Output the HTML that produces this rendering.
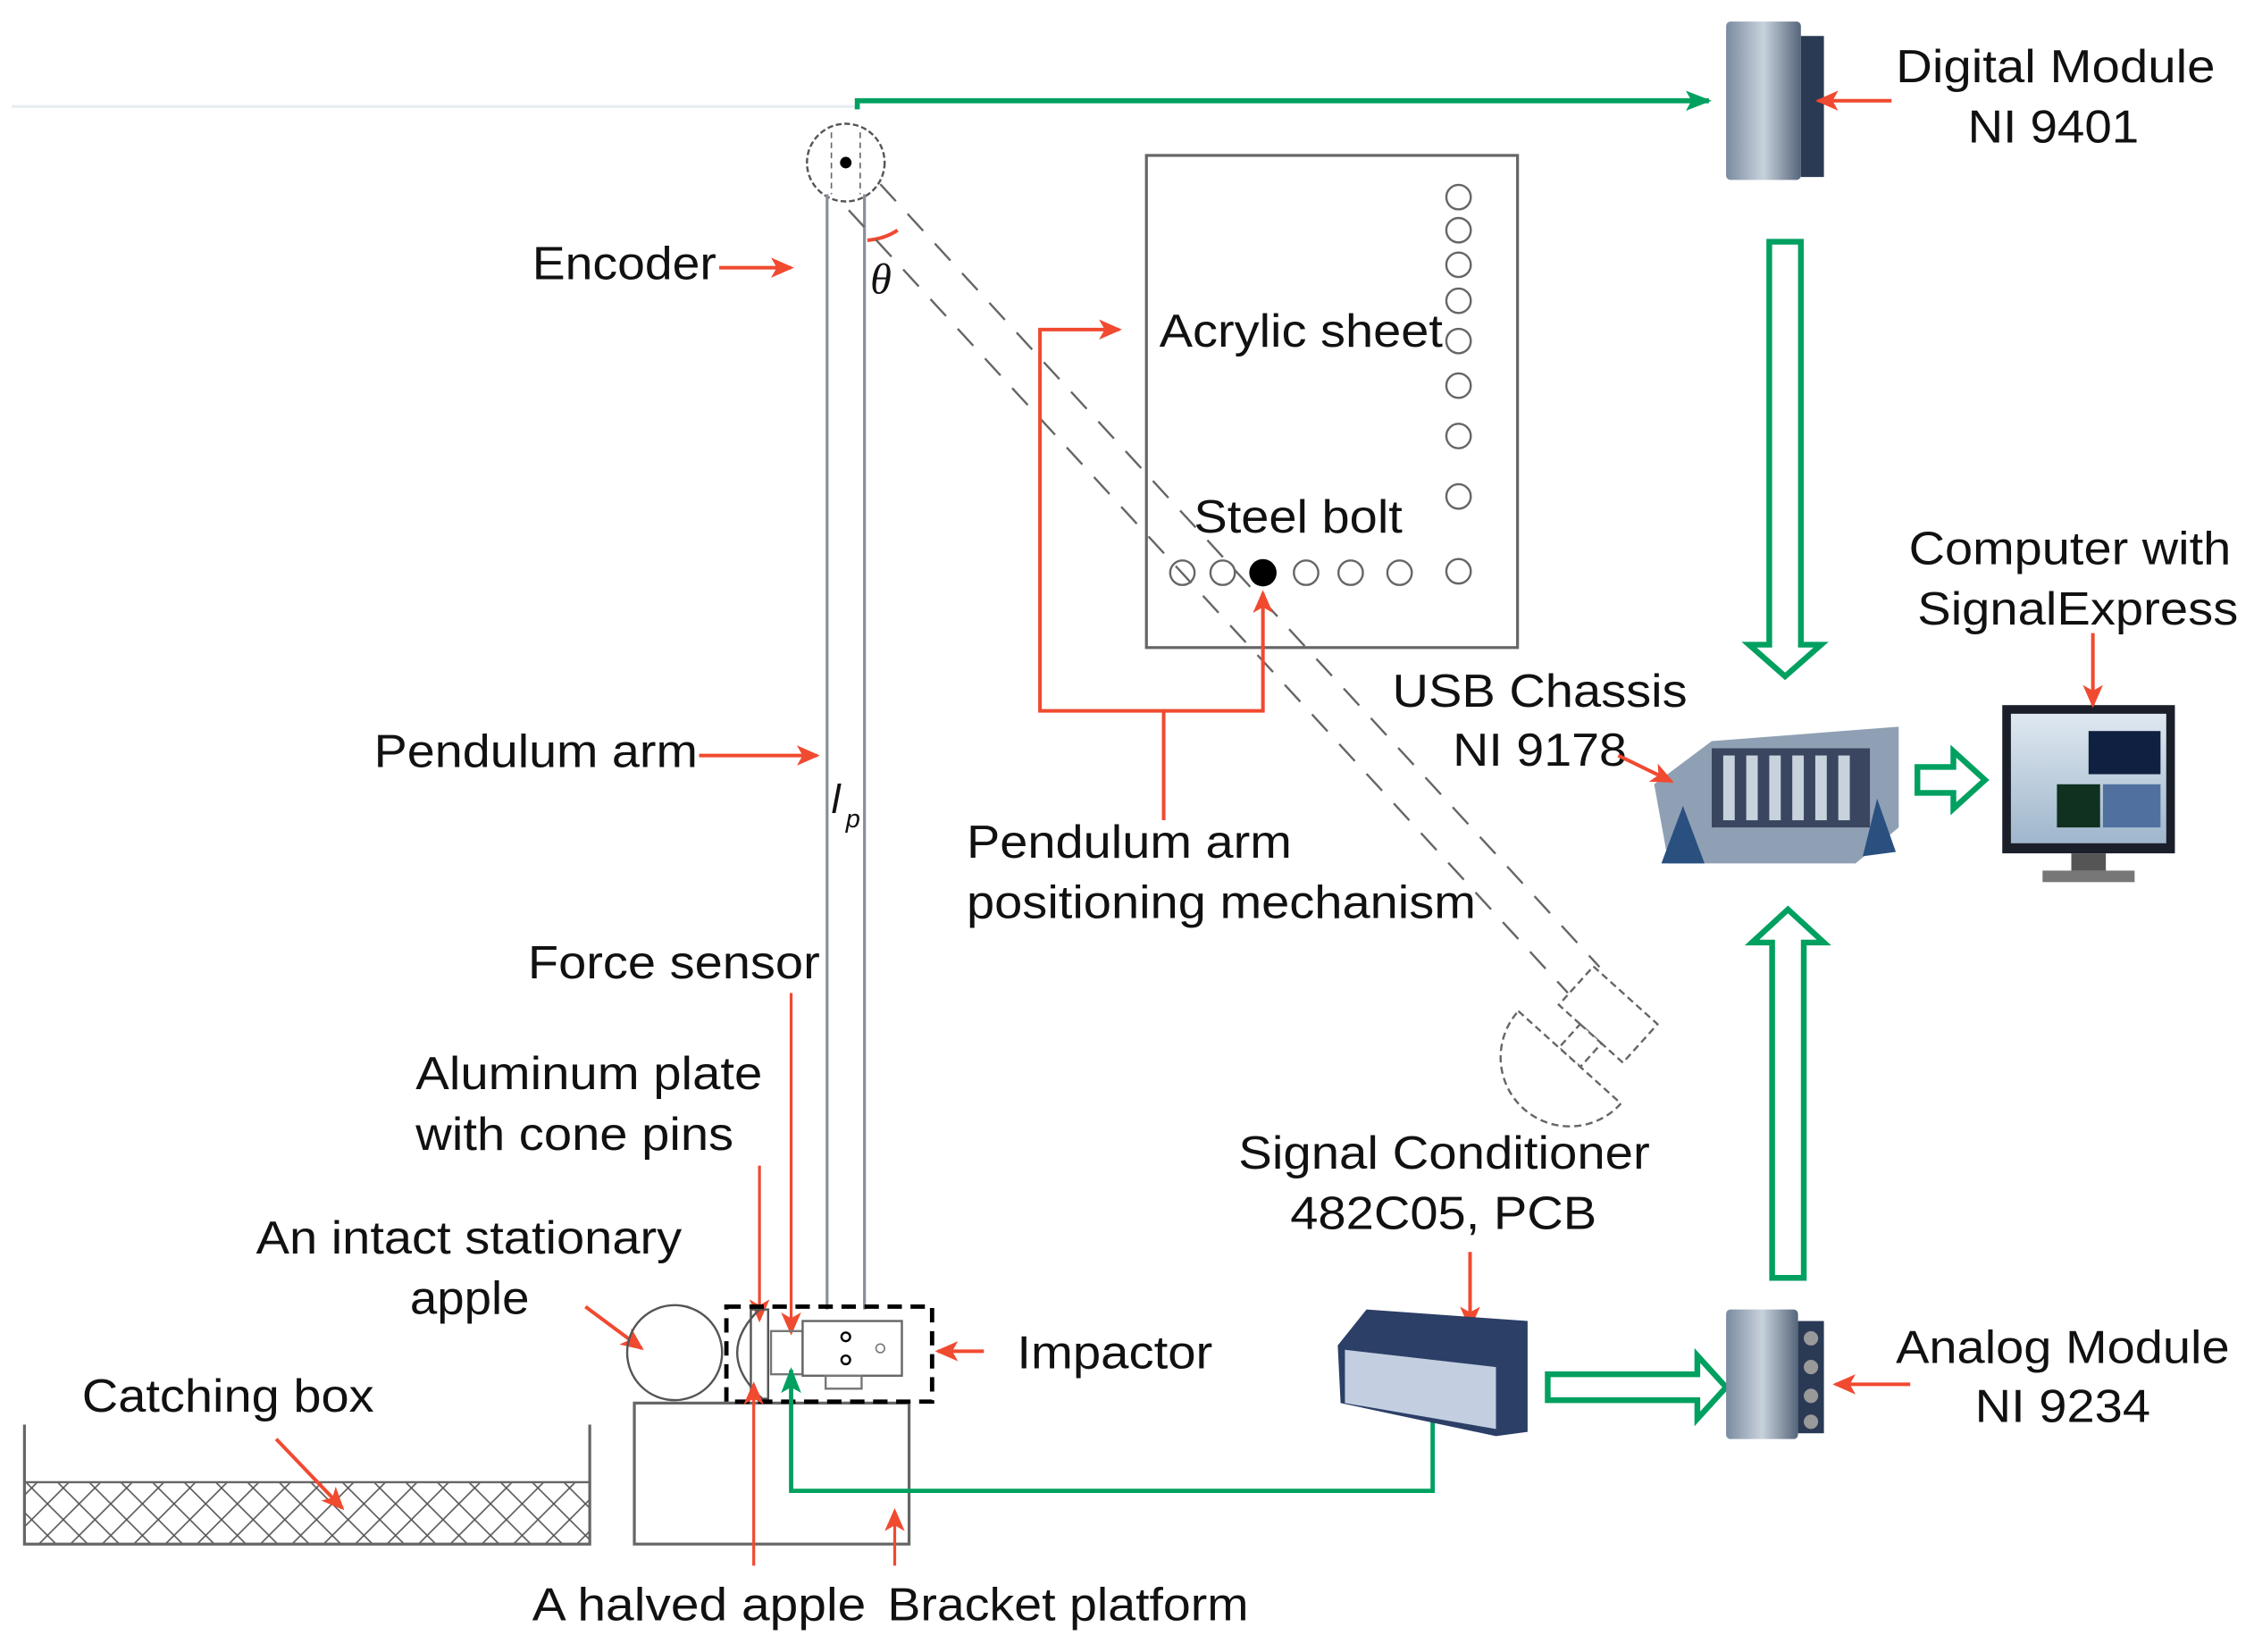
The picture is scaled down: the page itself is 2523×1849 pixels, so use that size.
<!DOCTYPE html>
<html><head><meta charset="utf-8"><style>
html,body{margin:0;padding:0;background:#fff;}
svg{display:block}
text{font-family:"Liberation Sans",sans-serif;font-size:32px;fill:#111;}
</style></head><body>
<svg width="2523" height="1849" viewBox="0 0 1567 1148" preserveAspectRatio="none" xmlns="http://www.w3.org/2000/svg">
<defs>
<marker id="rb" markerWidth="16" markerHeight="16" refX="14" refY="8" orient="auto" markerUnits="userSpaceOnUse"><path d="M0,1 L16,8 L0,15 L4,8z" fill="#f04a30"/></marker>
<marker id="gb" markerWidth="18" markerHeight="16" refX="16" refY="8" orient="auto" markerUnits="userSpaceOnUse"><path d="M0,1 L18,8 L0,15 L4,8z" fill="#00a060"/></marker>
<pattern id="hatch" width="22" height="22" patternUnits="userSpaceOnUse"><path d="M0,0 L22,22 M22,0 L0,22" stroke="#555" stroke-width="1"/></pattern>
<linearGradient id="mod" x1="0" x2="1"><stop offset="0" stop-color="#7a8ba0"/><stop offset="0.5" stop-color="#c8d2dc"/><stop offset="1" stop-color="#55657a"/></linearGradient>
<linearGradient id="scr" x1="0" y1="0" x2="0" y2="1"><stop offset="0" stop-color="#dfe8f0"/><stop offset="1" stop-color="#9fb6cc"/></linearGradient>
</defs>
<line x1="8" y1="74" x2="595" y2="74" stroke="#e6eef2" stroke-width="2"/>
<polyline points="596,76 596,70 1188,70" fill="none" stroke="#00a060" stroke-width="3.5" marker-end="url(#gb)"/>
<circle cx="588" cy="113" r="27" fill="none" stroke="#555" stroke-width="1.5" stroke-dasharray="4,2"/>
<line x1="578" y1="92" x2="578" y2="135" stroke="#666" stroke-dasharray="4,3"/>
<line x1="598" y1="92" x2="598" y2="135" stroke="#666" stroke-dasharray="4,3"/>
<circle cx="588" cy="113" r="4" fill="#000"/>
<line x1="575" y1="135" x2="575" y2="910" stroke="#8a8f98" stroke-width="2"/>
<line x1="601" y1="135" x2="601" y2="910" stroke="#8a8f98" stroke-width="2"/>
<path d="M603,167 Q615,166 624,160" fill="none" stroke="#f04a30" stroke-width="2.5"/>
<text x="605" y="204" style="font-family:'Liberation Serif',serif;font-style:italic;font-size:30px">θ</text>
<line x1="612" y1="128" x2="1112" y2="672" stroke="#666" stroke-width="1.5" stroke-dasharray="16,12"/>
<line x1="590" y1="146" x2="1090" y2="690" stroke="#666" stroke-width="1.5" stroke-dasharray="16,12"/>
<g transform="translate(1118,705) rotate(42)" fill="#fff" stroke="#666" stroke-width="1.5" stroke-dasharray="5,3">
<rect x="-30" y="-18" width="60" height="36"/>
<rect x="-10" y="18" width="20" height="22"/>
<path d="M-48,40 L48,40 A48,48 0 0 1 -48,40" />
</g>
<rect x="797" y="108" width="258" height="342" fill="none" stroke="#666" stroke-width="2"/>
<g fill="none" stroke="#666" stroke-width="1.5">
<circle cx="1014" cy="137" r="8.5"/><circle cx="1014" cy="160" r="8.5"/><circle cx="1014" cy="184" r="8.5"/><circle cx="1014" cy="209" r="8.5"/><circle cx="1014" cy="237" r="8.5"/><circle cx="1014" cy="268" r="8.5"/><circle cx="1014" cy="303" r="8.5"/><circle cx="1014" cy="345" r="8.5"/><circle cx="1014" cy="397" r="8.5"/>
<circle cx="822" cy="398" r="8.5"/><circle cx="850" cy="398" r="8.5"/><circle cx="908" cy="398" r="8.5"/><circle cx="939" cy="398" r="8.5"/><circle cx="973" cy="398" r="8.5"/>
</g>
<circle cx="878" cy="398" r="9.5" fill="#000"/>
<text x="806" y="241" textLength="197" lengthAdjust="spacingAndGlyphs">Acrylic sheet</text>
<text x="830" y="370" textLength="145" lengthAdjust="spacingAndGlyphs">Steel bolt</text>
<polyline points="809,570 809,494 723,494 723,229 778,229" fill="none" stroke="#f04a30" stroke-width="2.5" marker-end="url(#rb)"/>
<polyline points="809,494 878,494 878,412" fill="none" stroke="#f04a30" stroke-width="2.5" marker-end="url(#rb)"/>
<text x="370" y="194" textLength="128" lengthAdjust="spacingAndGlyphs">Encoder</text>
<line x1="500" y1="186" x2="550" y2="186" stroke="#f04a30" stroke-width="2.5" marker-end="url(#rb)"/>
<text x="260" y="533" textLength="225" lengthAdjust="spacingAndGlyphs">Pendulum arm</text>
<line x1="486" y1="525" x2="568" y2="525" stroke="#f04a30" stroke-width="2.5" marker-end="url(#rb)"/>
<text x="578" y="565" style="font-style:italic;font-size:28px">l</text><text x="588" y="575" style="font-style:italic;font-size:18px">p</text>
<text x="672" y="596" textLength="226" lengthAdjust="spacingAndGlyphs">Pendulum arm</text>
<text x="672" y="638" textLength="354" lengthAdjust="spacingAndGlyphs">positioning mechanism</text>
<text x="367" y="680" textLength="203" lengthAdjust="spacingAndGlyphs">Force sensor</text>
<line x1="550" y1="690" x2="550" y2="926" stroke="#f04a30" stroke-width="2" marker-end="url(#rb)"/>
<text x="289" y="757" textLength="241" lengthAdjust="spacingAndGlyphs">Aluminum plate</text>
<text x="289" y="799" textLength="221" lengthAdjust="spacingAndGlyphs">with cone pins</text>
<line x1="528" y1="810" x2="528" y2="917" stroke="#f04a30" stroke-width="2" marker-end="url(#rb)"/>
<text x="178" y="871" textLength="296" lengthAdjust="spacingAndGlyphs">An intact stationary</text>
<text x="285" y="913" textLength="83" lengthAdjust="spacingAndGlyphs">apple</text>
<line x1="407" y1="908" x2="446" y2="937" stroke="#f04a30" stroke-width="2.5" marker-end="url(#rb)"/>
<rect x="441" y="975" width="191" height="98" fill="none" stroke="#666" stroke-width="2"/>
<circle cx="469" cy="940" r="33" fill="none" stroke="#555" stroke-width="1.5"/>
<path d="M530,908 Q495,940 530,972" fill="none" stroke="#555" stroke-width="1.5"/>
<rect x="522" y="910" width="12" height="62" fill="none" stroke="#555" stroke-width="1.5"/>
<rect x="536" y="925" width="22" height="30" fill="none" stroke="#777" stroke-width="1.5"/>
<rect x="558" y="918" width="69" height="38" fill="#fff" stroke="#666" stroke-width="1.5"/>
<rect x="574" y="956" width="25" height="9" fill="none" stroke="#777" stroke-width="1.5"/>
<circle cx="588" cy="929" r="3" fill="none" stroke="#000" stroke-width="1.5"/><circle cx="588" cy="945" r="3" fill="none" stroke="#000" stroke-width="1.5"/><circle cx="612" cy="937" r="3" fill="none" stroke="#777"/>
<rect x="505" y="908" width="143" height="66" fill="none" stroke="#000" stroke-width="3" stroke-dasharray="10,6"/>
<text x="707" y="951" textLength="136" lengthAdjust="spacingAndGlyphs">Impactor</text>
<line x1="684" y1="939" x2="652" y2="939" stroke="#f04a30" stroke-width="2.5" marker-end="url(#rb)"/>
<text x="57" y="981" textLength="203" lengthAdjust="spacingAndGlyphs">Catching box</text>
<polyline points="17,990 17,1073 410,1073 410,990" fill="none" stroke="#666" stroke-width="2"/>
<rect x="17" y="1030" width="393" height="43" fill="url(#hatch)" stroke="#666" stroke-width="1.5"/>
<line x1="192" y1="1000" x2="238" y2="1048" stroke="#f04a30" stroke-width="2.5" marker-end="url(#rb)"/>
<text x="370" y="1126" textLength="232" lengthAdjust="spacingAndGlyphs">A halved apple</text>
<text x="617" y="1126" textLength="251" lengthAdjust="spacingAndGlyphs">Bracket platform</text>
<line x1="524" y1="1088" x2="524" y2="962" stroke="#f04a30" stroke-width="2" marker-end="url(#rb)"/>
<line x1="622" y1="1088" x2="622" y2="1050" stroke="#f04a30" stroke-width="2" marker-end="url(#rb)"/>
<polyline points="996,985 996,1036 550,1036 550,952" fill="none" stroke="#00a060" stroke-width="3" marker-end="url(#gb)"/>
<text x="861" y="812" textLength="286" lengthAdjust="spacingAndGlyphs">Signal Conditioner</text>
<text x="897" y="854" textLength="213" lengthAdjust="spacingAndGlyphs">482C05, PCB</text>
<line x1="1022" y1="870" x2="1022" y2="922" stroke="#f04a30" stroke-width="2.5" marker-end="url(#rb)"/>
<path d="M930,935 L950,910 L1062,918 L1062,995 L1040,998 L932,975z" fill="#2c3f66"/>
<path d="M935,938 L1040,950 L1040,993 L935,975z" fill="#c3cfe0"/>
<path d="M1076,955 L1180,955 L1180,942 L1200,964 L1180,986 L1180,973 L1076,973z" fill="#fff" stroke="#00a060" stroke-width="4"/>
<path d="M1232,888 L1232,655 L1218,655 L1243,632 L1268,655 L1254,655 L1254,888z" fill="#fff" stroke="#00a060" stroke-width="4"/>
<path d="M1230,168 L1252,168 L1252,448 L1266,448 L1241,470 L1216,448 L1230,448z" fill="#fff" stroke="#00a060" stroke-width="4"/>
<path d="M1333,533 L1358,533 L1358,522 L1380,542 L1358,562 L1358,551 L1333,551z" fill="#fff" stroke="#00a060" stroke-width="4"/>
<rect x="1200" y="910" width="50" height="90" fill="url(#mod)" rx="3"/>
<rect x="1250" y="918" width="18" height="78" fill="#2a3a55"/>
<circle cx="1259" cy="930" r="5" fill="#999"/><circle cx="1259" cy="950" r="5" fill="#999"/><circle cx="1259" cy="970" r="5" fill="#999"/><circle cx="1259" cy="988" r="5" fill="#999"/>
<text x="1318" y="947" textLength="232" lengthAdjust="spacingAndGlyphs">Analog Module</text>
<text x="1373" y="988" textLength="122" lengthAdjust="spacingAndGlyphs">NI 9234</text>
<line x1="1328" y1="962" x2="1276" y2="962" stroke="#f04a30" stroke-width="2.5" marker-end="url(#rb)"/>
<rect x="1200" y="15" width="52" height="110" fill="url(#mod)" rx="3"/>
<rect x="1252" y="25" width="16" height="98" fill="#2a3a55"/>
<text x="1318" y="57" textLength="222" lengthAdjust="spacingAndGlyphs">Digital Module</text>
<text x="1368" y="99" textLength="119" lengthAdjust="spacingAndGlyphs">NI 9401</text>
<line x1="1315" y1="70" x2="1264" y2="70" stroke="#f04a30" stroke-width="2.5" marker-end="url(#rb)"/>
<path d="M1150,545 L1190,515 L1320,505 L1320,575 L1290,600 L1160,600z" fill="#8fa0b4"/>
<rect x="1190" y="520" width="110" height="55" fill="#3a4660"/>
<g fill="#c8d2dc"><rect x="1198" y="525" width="8" height="45"/><rect x="1214" y="525" width="8" height="45"/><rect x="1230" y="525" width="8" height="45"/><rect x="1246" y="525" width="8" height="45"/><rect x="1262" y="525" width="8" height="45"/><rect x="1278" y="525" width="8" height="45"/></g>
<path d="M1155,600 L1170,560 L1185,600z M1295,595 L1305,555 L1318,592z" fill="#2a5080"/>
<text x="968" y="491" textLength="205" lengthAdjust="spacingAndGlyphs">USB Chassis</text>
<text x="1010" y="532" textLength="121" lengthAdjust="spacingAndGlyphs">NI 9178</text>
<line x1="1125" y1="525" x2="1162" y2="543" stroke="#f04a30" stroke-width="2.5" marker-end="url(#rb)"/>
<rect x="1392" y="490" width="120" height="103" fill="#1a1f2a"/>
<rect x="1398" y="496" width="108" height="90" fill="url(#scr)"/>
<rect x="1452" y="508" width="50" height="30" fill="#102040"/>
<rect x="1430" y="545" width="30" height="30" fill="#103020"/>
<rect x="1462" y="545" width="40" height="30" fill="#5070a0"/>
<rect x="1440" y="593" width="24" height="12" fill="#555"/>
<rect x="1420" y="605" width="64" height="8" fill="#777"/>
<text x="1327" y="392" textLength="224" lengthAdjust="spacingAndGlyphs">Computer with</text>
<text x="1333" y="434" textLength="223" lengthAdjust="spacingAndGlyphs">SignalExpress</text>
<line x1="1455" y1="440" x2="1455" y2="490" stroke="#f04a30" stroke-width="2.5" marker-end="url(#rb)"/>
</svg>
</body></html>
